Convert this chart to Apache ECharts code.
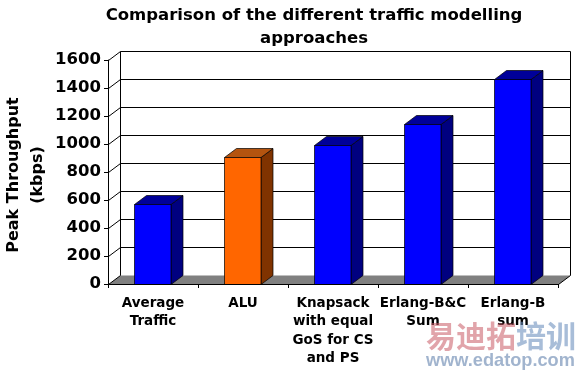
<!DOCTYPE html>
<html><head><meta charset="utf-8">
<style>html,body{margin:0;padding:0;background:#fff}#c{width:580px;height:370px}</style>
<script src="https://cdn.jsdelivr.net/npm/echarts@6/dist/echarts.min.js"></script>
</head><body><div id="c"></div>
<script>
const categories = ['Average\nTraffic','ALU','Knapsack\nwith equal\nGoS for CS\nand PS','Erlang-B&C\nSum','Erlang-B\nsum'];
const peakThroughput = [573, 905, 993, 1143, 1462];
const yTicks = [0,200,400,600,800,1000,1200,1400,1600];
const blues = {front:'#0000FF', top:'#000099', side:'#000080'};
const orange = {front:'#FF6600', top:'#B4540F', side:'#803300'};
const barColors = [blues, orange, blues, blues, blues];
const titleLines = 'Comparison of the different traffic modelling\napproaches';
const yName = 'Peak Throughput\n(kbps)';
const FONT = '"DejaVu Sans"';
const DX = 12, DY = 9;
const line = (x1,y1,x2,y2) => ({type:'line',shape:{x1,y1,x2,y2},style:{stroke:'#000',lineWidth:1},silent:true});
const chart = echarts.init(document.getElementById('c'),null,{renderer:'canvas'});
chart.setOption({
  animation:false,
  backgroundColor:'#fff',
  title:{text:titleLines,left:309,top:-1,textAlign:'center',
    textStyle:{fontFamily:FONT,fontWeight:'bold',fontSize:16.5,lineHeight:23,color:'#000'}},
  grid:{left:108,top:60,width:450,height:224,containLabel:false,outerBoundsMode:'none'},
  xAxis:{type:'category',data:categories,
    axisLine:{lineStyle:{color:'#000',width:1}},
    axisTick:{show:true,alignWithLabel:false,length:4,lineStyle:{color:'#000'}},
    axisLabel:{interval:0,fontFamily:FONT,fontWeight:'bold',fontSize:13.5,lineHeight:18.5,color:'#000',margin:10,verticalAlign:'top'},
    splitLine:{show:false},z:5},
  yAxis:{type:'value',min:0,max:1600,interval:200,
    name:yName,nameLocation:'middle',nameRotate:90,nameGap:58,nameMoveOverlap:false,
    nameTextStyle:{fontFamily:FONT,fontWeight:'bold',fontSize:16,lineHeight:24,color:'#000',padding:[0,6,0,0]},
    axisLine:{show:true,lineStyle:{color:'#000',width:1}},
    axisTick:{show:true,length:4,lineStyle:{color:'#000'}},
    axisLabel:{fontFamily:FONT,fontWeight:'bold',fontSize:16.5,color:'#000',margin:7,formatter:v=>String(v)},
    splitLine:{show:false},z:5},
  series:[
    {type:'custom',coordinateSystem:'cartesian2d',z:1,silent:true,clip:false,
     data:yTicks.map(v=>[0,v]),
     renderItem(params,api){
       const cs=params.coordSys, p=api.coord([0,api.value(1)]), y=Math.round(p[1])+.5;
       const L=cs.x+.5, R=cs.x+cs.width+.5, kids=[];
       if(api.value(1)===0){
         kids.push({type:'polygon',shape:{points:[[L,y],[L+DX,y-DY],[R+DX,y-DY],[R,y]]},style:{fill:'#808080'}});
         kids.push(line(L+DX,y-DY,L+DX,cs.y+.5-DY));
         kids.push(line(R+DX,y-DY,R+DX,cs.y+.5-DY));
         kids.push(line(R,y,R+DX,y-DY));
       } else {
         kids.push(line(L+DX,y-DY,R+DX,y-DY));
       }
       kids.push(line(L,y,L+DX,y-DY));
       return {type:'group',children:kids};
     }},
    {type:'custom',coordinateSystem:'cartesian2d',z:2,silent:true,clip:false,
     data:peakThroughput.map((v,i)=>[i,v]),
     renderItem(params,api){
       const i=api.value(0), v=api.value(1), c=barColors[i];
       const top=api.coord([i,v]), base=api.coord([i,0]);
       const w=36.5, x0=Math.round(top[0]-w/2)-.5, x1=x0+w, yt=Math.round(top[1])+.5, yb=Math.round(base[1])+.5;
       const st=f=>({fill:f,stroke:'#000',lineWidth:.7,lineJoin:'round'});
       return {type:'group',children:[
         {type:'polygon',shape:{points:[[x1,yt],[x1+DX,yt-DY],[x1+DX,yb-DY],[x1,yb]]},style:st(c.side)},
         {type:'polygon',shape:{points:[[x0,yt],[x0+DX,yt-DY],[x1+DX,yt-DY],[x1,yt]]},style:st(c.top)},
         {type:'rect',shape:{x:x0,y:yt,width:w,height:yb-yt},style:st(c.front)}
       ]};
     }}
  ],
  graphic:[
    {type:'text',left:426,top:321,z:20,silent:true,style:{text:'易迪拓',fontFamily:'"Noto Sans CJK SC"',fontWeight:'bold',fontSize:30,fill:'rgba(200,90,100,.55)'}},
    {type:'text',left:516,top:321,z:20,silent:true,style:{text:'培训',fontFamily:'"Noto Sans CJK SC"',fontWeight:'bold',fontSize:30,fill:'rgba(110,145,190,.6)'}},
    {type:'text',left:426,top:352,z:20,silent:true,style:{text:'www.edatop.com',fontFamily:'"Liberation Sans"',fontWeight:'bold',fontSize:18.2,fill:'rgba(110,140,180,.65)'}}
  ]
});
</script></body></html>
